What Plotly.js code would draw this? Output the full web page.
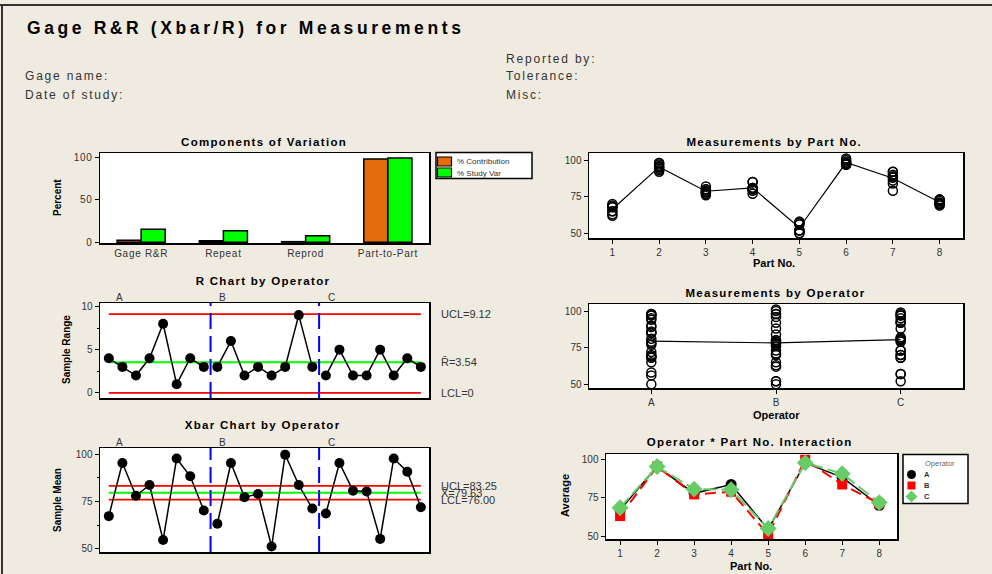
<!DOCTYPE html>
<html>
<head>
<meta charset="utf-8">
<script src="https://cdn.plot.ly/plotly-3.0.1.min.js"></script>
<style>
html,body{margin:0;padding:0;background:#EFEBE1;}
#chart{width:992px;height:574px;}
.annotation[data-index="0"] text{letter-spacing:3.6px;}
.annotation[data-index="1"] text,.annotation[data-index="2"] text,.annotation[data-index="3"] text,
.annotation[data-index="4"] text,.annotation[data-index="5"] text{letter-spacing:1.8px;}
.annotation[data-index="6"] text,.annotation[data-index="7"] text,.annotation[data-index="8"] text,
.annotation[data-index="9"] text,.annotation[data-index="10"] text,.annotation[data-index="11"] text{letter-spacing:1.3px;}
.xtick text,.ytick text{letter-spacing:0.7px;}
</style>
</head>
<body>
<div id="chart"></div>
<script>
// ---------------- data ----------------
const components = ['Gage R&R', 'Repeat', 'Reprod', 'Part-to-Part'];
const pctContribution = [2.33, 1.77, 0.56, 97.67];
const pctStudyVar = [15.27, 13.30, 7.48, 98.83];
const componentSeries = ['% Contribution', '% Study Var'];

const operators = ['A', 'B', 'C'];
const parts = [1, 2, 3, 4, 5, 6, 7, 8];

// individual measurements (3 trials) per part, per operator
const measA = [[65,68,69],[94,95,97],[77,78,79],[81,85,85],[50,56,58],[97,98,98],[86,89,90],[69,70,72]];
const measB = [[62,63,65],[92,96,98],[76,78,78],[77,80,80],[50,52,52],[98,100,101],[79,84,88],[70,71,73]];
const measC = [[68,68,70],[93,95,98],[80,80,82],[79,81,81],[52,57,57],[97,97,99],[88,92,92],[70,73,73]];

// subgroup ranges per operator (parts 1..8)
const rangeA = [4, 3, 2, 4, 8, 1, 4, 3];
const rangeB = [3, 6, 2, 3, 2, 3, 9, 3];
const rangeC = [2, 5, 2, 2, 5, 2, 4, 3];

// subgroup means per operator (parts 1..8)
const xbarA = [67.3, 95.3, 78.0, 83.7, 54.7, 97.7, 88.3, 70.3];
const xbarB = [63.3, 95.3, 77.3, 79.0, 51.3, 99.7, 83.7, 71.3];
const xbarC = [68.7, 95.3, 80.7, 80.3, 55.3, 97.7, 90.7, 72.0];

const partMeans = [66.4, 95.3, 78.7, 81.0, 53.8, 98.3, 87.6, 71.2];
const operatorMeans = [79.4, 78.2, 80.4];

const rLimits = [9.12, 3.54, 0];          // UCL, R-bar, LCL
const rLabels = ['UCL=9.12', 'R\u0304=3.54', 'LCL=0'];
const xbarLimits = [83.25, 79.63, 76.00]; // UCL, X-double-bar, LCL
const xbarLabels = ['UCL=83.25', 'X\u0304=79.63', 'LCL=76.00'];

// ---------------- helpers ----------------
const W = 992, H = 574;
const px = v => v / W;
const py = v => 1 - v / H;
const FONT = 'Liberation Sans, Arial, sans-serif';
const TXT = '#333';

const meas = [measA, measB, measC];
const ranges = [rangeA, rangeB, rangeC];
const xbars = [xbarA, xbarB, xbarC];
const nSub = parts.length * operators.length;
const barColors = ['#E46C0A', '#00FF00'];

const traces = [];

// Components of variation
[pctContribution, pctStudyVar].forEach((vals, i) => {
  traces.push({type:'bar', x:components, y:vals, name:componentSeries[i], xaxis:'x', yaxis:'y',
    marker:{color:barColors[i], line:{color:'#000', width:1.5}}});
});

// Control charts
function controlChart(vals, limits, xa, ya) {
  limits.forEach((v, i) => {
    traces.push({type:'scatter', mode:'lines', x:[1, nSub], y:[v, v], xaxis:xa, yaxis:ya,
      line:{color: i === 1 ? '#00FF00' : '#FF0000', width: 1.8}, hoverinfo:'skip'});
  });
  vals.forEach((arr, g) => {
    traces.push({type:'scatter', mode:'lines+markers', x:parts.map(p => p + g * parts.length), y:arr,
      xaxis:xa, yaxis:ya, name:operators[g],
      line:{color:'#000', width:1.5}, marker:{color:'#000', size:10}});
  });
}
controlChart(ranges, rLimits, 'x2', 'y2');
controlChart(xbars, xbarLimits, 'x3', 'y3');

// Measurements by part
const bpX = [], bpY = [];
parts.forEach((p, i) => meas.forEach(m => m[i].forEach(v => { bpX.push(p); bpY.push(v); })));
traces.push({type:'scatter', mode:'markers', x:bpX, y:bpY, xaxis:'x4', yaxis:'y4',
  marker:{symbol:'circle-open', size:9, color:'#000', line:{width:1.5, color:'#000'}}});
traces.push({type:'scatter', mode:'lines', x:parts, y:partMeans, xaxis:'x4', yaxis:'y4',
  line:{color:'#000', width:1.2}});

// Measurements by operator
const boX = [], boY = [];
operators.forEach((o, k) => meas[k].forEach(trio => trio.forEach(v => { boX.push(o); boY.push(v); })));
traces.push({type:'scatter', mode:'markers', x:boX, y:boY, xaxis:'x5', yaxis:'y5',
  marker:{symbol:'circle-open', size:9, color:'#000', line:{width:1.5, color:'#000'}}});
traces.push({type:'scatter', mode:'lines', x:operators, y:operatorMeans, xaxis:'x5', yaxis:'y5',
  line:{color:'#000', width:1.2}});

// Interaction
const opColors = ['#000000', '#FF0000', '#66CC66'];
const iStyle = [
  {line:{color:opColors[0], width:1.5}, marker:{symbol:'circle', color:opColors[0], size:11}},
  {line:{color:opColors[1], width:2, dash:'11px,6px'}, marker:{symbol:'square', color:opColors[1], size:10}},
  {line:{color:opColors[2], width:2, dash:'13px,5px'}, marker:{symbol:'diamond', color:opColors[2], size:13}}
];
operators.forEach((o, k) => {
  traces.push({type:'scatter', mode:'lines', x:parts, y:xbars[k], xaxis:'x6', yaxis:'y6',
    line:iStyle[k].line, hoverinfo:'skip'});
  traces.push({type:'scatter', mode:'markers', x:parts, y:xbars[k], xaxis:'x6', yaxis:'y6', name:o,
    marker:iStyle[k].marker});
});

// ---------------- layout ----------------
function ax(extra) {
  return Object.assign({showline:true, mirror:true, linecolor:'#000', linewidth:1.5,
    ticks:'outside', ticklen:4, tickwidth:1, tickcolor:'#000', showgrid:false, zeroline:false,
    tickfont:{size:10, color:TXT, family:FONT}, fixedrange:true}, extra);
}

const ann = [];
function txt(text, x, y, opt) {
  ann.push(Object.assign({text:text, x:px(x), y:py(y), xref:'paper', yref:'paper', showarrow:false,
    xanchor:'center', yanchor:'middle', font:{size:11, color:TXT, family:FONT}}, opt || {}));
}
// header (indices 0..5)
const hf = {size:12, color:TXT, family:FONT};
txt('Gage R&R (Xbar/R) for Measurements', 25, 28, {xanchor:'left', align:'left', font:{size:17.5, color:'#000', family:FONT, weight:'bold'}});
txt('Gage name:', 23, 76, {xanchor:'left', align:'left', font:hf});
txt('Date of study:', 23, 95, {xanchor:'left', align:'left', font:hf});
txt('Reported by:', 504, 59, {xanchor:'left', align:'left', font:hf});
txt('Tolerance:', 504, 76, {xanchor:'left', align:'left', font:hf});
txt('Misc:', 504, 95, {xanchor:'left', align:'left', font:hf});
// panel titles (6..11)
const tf = {size:11.5, color:'#000', family:FONT, weight:'bold'};
txt('Components of Variation', 264, 142, {font:tf});
txt('R Chart by Operator', 263, 281, {font:tf});
txt('Xbar Chart by Operator', 263, 425, {font:tf});
txt('Measurements by Part No.', 774, 142, {font:tf});
txt('Measurements by Operator', 775, 293, {font:tf});
txt('Operator * Part No. Interaction', 750, 442, {font:tf});
// axis titles
const af = {size:10, color:'#000', family:FONT, weight:'bold'};
const af11 = {size:11, color:'#000', family:FONT, weight:'bold'};
txt('Percent', 57, 198, {textangle:-90, font:af});
txt('Sample Range', 66, 350, {textangle:-90, font:af});
txt('Sample Mean', 58, 500, {textangle:-90, font:af});
txt('Average', 565, 496, {textangle:-90, font:af11});
txt('Part No.', 774, 263, {font:af11});
txt('Operator', 776, 415, {font:af11});
txt('Part No.', 751, 566, {font:af11});
// control-limit labels
rLimits.forEach((v, i) => ann.push({text:rLabels[i], xref:'paper', x:px(439), yref:'y2', y:v, xanchor:'left',
  align:'left', yanchor:'middle', showarrow:false, font:{size:11, color:TXT, family:FONT}}));
xbarLimits.forEach((v, i) => ann.push({text:xbarLabels[i], xref:'paper', x:px(439), yref:'y3', y:v, xanchor:'left',
  align:'left', yanchor:'middle', showarrow:false, font:{size:11, color:TXT, family:FONT}}));
// operator group labels
const grpPos = [1.8, 9.4, 17.4];
operators.forEach((o, k) => {
  ann.push({text:o, xref:'x2', x:grpPos[k], yref:'paper', y:py(297), showarrow:false, yanchor:'middle',
    font:{size:10, color:TXT, family:FONT}});
  ann.push({text:o, xref:'x3', x:grpPos[k], yref:'paper', y:py(442), showarrow:false, yanchor:'middle',
    font:{size:10, color:TXT, family:FONT}});
});

const shapes = [];
[8.5, 16.5].forEach(b => {
  ['2', '3'].forEach(n => shapes.push({type:'line', xref:'x' + n, yref:'y' + n + ' domain', x0:b, x1:b, y0:0, y1:1,
    line:{color:'#0000FF', width:2, dash:'16px,7px'}}));
});
shapes.push({type:'line', xref:'paper', yref:'paper', x0:0, x1:1, y0:py(5), y1:py(5), line:{color:'#333', width:2}});
shapes.push({type:'line', xref:'paper', yref:'paper', x0:px(2), x1:px(2), y0:0, y1:py(5), line:{color:'#333', width:2}});

// legend: components of variation
function rectPx(x0, y0, x1, y1, fill, lw) {
  shapes.push({type:'rect', xref:'paper', yref:'paper', x0:px(x0), x1:px(x1), y0:py(y1), y1:py(y0),
    fillcolor:fill, line:{color:'#000', width:lw}});
}
rectPx(436, 152.5, 532, 178.5, '#FFFFFF', 1.5);
componentSeries.forEach((s, i) => {
  rectPx(437.5, 157 + i * 11, 451.5, 166 + i * 11, barColors[i], 1.2);
  txt(s, 455, 161.5 + i * 11.5, {xanchor:'left', align:'left', font:{size:8, color:TXT, family:FONT}});
});
// legend: interaction
rectPx(903, 454.5, 968, 503.5, '#FFFFFF', 1.5);
txt('Operator', 940, 463.5, {font:{size:7.5, color:'#666', family:FONT}});
const legY = [474.5, 485.5, 496.5];
const lx = 911.5;
shapes.push({type:'circle', xref:'paper', yref:'paper', x0:px(lx - 4.5), x1:px(lx + 4.5), y0:py(legY[0] + 4.5), y1:py(legY[0] - 4.5),
  fillcolor:opColors[0], line:{color:opColors[0], width:0}});
shapes.push({type:'rect', xref:'paper', yref:'paper', x0:px(lx - 4), x1:px(lx + 4), y0:py(legY[1] + 4), y1:py(legY[1] - 4),
  fillcolor:opColors[1], line:{color:opColors[1], width:0}});
const dd = 6;
shapes.push({type:'path', xref:'paper', yref:'paper',
  path:'M ' + px(lx - dd) + ' ' + py(legY[2]) + ' L ' + px(lx) + ' ' + py(legY[2] - dd) + ' L ' + px(lx + dd) + ' ' + py(legY[2]) +
       ' L ' + px(lx) + ' ' + py(legY[2] + dd) + ' Z',
  fillcolor:opColors[2], line:{color:opColors[2], width:0}});
operators.forEach((o, k) => txt(o, 922, legY[k], {xanchor:'left', align:'left', font:{size:7.5, color:TXT, family:FONT, weight:'bold'}}));

const layout = {
  width:W, height:H, margin:{l:0, r:0, t:0, b:0},
  paper_bgcolor:'#EFEBE1', plot_bgcolor:'#FFFFFF',
  font:{family:FONT, color:TXT},
  showlegend:false,
  barmode:'group', bargap:0.415, bargroupgap:0,
  xaxis:ax({domain:[px(100), px(429)], anchor:'y', ticks:'', type:'category'}),
  yaxis:ax({domain:[py(243), py(153)], anchor:'x', range:[-1, 104.7], tickvals:[0, 50, 100]}),
  xaxis2:ax({domain:[px(100), px(429)], anchor:'y2', range:[0.35, 24.6], showticklabels:false, ticks:''}),
  yaxis2:ax({domain:[py(398), py(303)], anchor:'x2', range:[-0.6, 10.4], tick0:0, dtick:5,
    minor:{ticks:'outside', ticklen:2, tickcolor:'#000', dtick:2.5, tick0:0}}),
  xaxis3:ax({domain:[px(100), px(429)], anchor:'y3', range:[0.35, 24.6], showticklabels:false, ticks:''}),
  yaxis3:ax({domain:[py(552), py(448)], anchor:'x3', range:[48.4, 103.2], tick0:0, dtick:25,
    minor:{ticks:'outside', ticklen:2, tickcolor:'#000', dtick:12.5, tick0:0}}),
  xaxis4:ax({domain:[px(589), px(963)], anchor:'y4', range:[0.5, 8.5], tickvals:parts}),
  yaxis4:ax({domain:[py(238), py(153)], anchor:'x4', range:[46.8, 104.8], tickvals:[50, 75, 100]}),
  xaxis5:ax({domain:[px(589), px(963)], anchor:'y5', type:'category', range:[-0.5, 2.5]}),
  yaxis5:ax({domain:[py(388), py(304)], anchor:'x5', range:[47.4, 104.8], tickvals:[50, 75, 100]}),
  xaxis6:ax({domain:[px(606), px(897)], anchor:'y6', range:[0.62, 8.48], tickvals:parts}),
  yaxis6:ax({domain:[py(539), py(454)], anchor:'x6', range:[48.5, 103.4], tickvals:[50, 75, 100]}),
  annotations:ann, shapes:shapes
};

Plotly.newPlot('chart', traces, layout, {displayModeBar:false, staticPlot:true});
</script>
</body>
</html>
